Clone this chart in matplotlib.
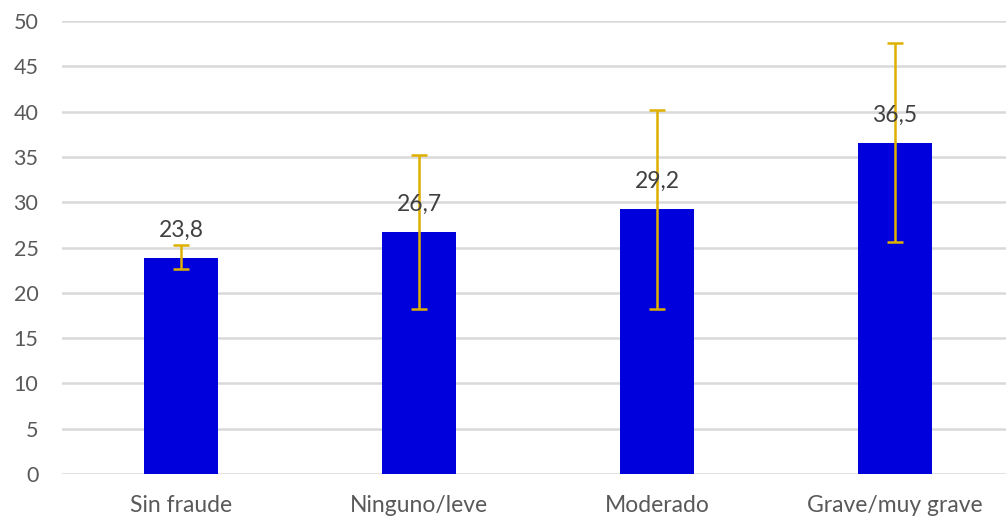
import matplotlib
matplotlib.use("Agg")
import matplotlib.pyplot as plt
import numpy as np

plt.rcParams['font.family'] = ['Lato', 'DejaVu Sans']

categories = ["Sin fraude", "Ninguno/leve", "Moderado", "Grave/muy grave"]
values = [23.8, 26.7, 29.2, 36.5]
err_low = [22.6, 18.2, 18.2, 25.6]
err_high = [25.3, 35.2, 40.2, 47.6]
labels = ["23,8", "26,7", "29,2", "36,5"]

BAR_COLOR = "#0000DC"
ERR_COLOR = "#DFB000"
GRID_COLOR = "#D9D9D9"

fig = plt.figure(figsize=(10.06, 5.18), dpi=100)
ax = fig.add_axes([62 / 1006, 44 / 518, 952 / 1006, 453 / 518])

x = np.arange(len(categories))
vals = np.array(values)
yerr = np.array([vals - np.array(err_low), np.array(err_high) - vals])

ax.bar(x, vals, width=0.31, color=BAR_COLOR, zorder=2)
ax.errorbar(x, vals, yerr=yerr, fmt="none", ecolor=ERR_COLOR,
            elinewidth=1.8, capsize=6, capthick=1.8, zorder=3)

for xi, v, lab in zip(x, vals, labels):
    ax.annotate(lab, (xi, v), xytext=(0, 20), textcoords="offset points",
                ha="center", va="center", fontsize=16.5, color="#404040", zorder=4)

ax.set_xlim(-0.5, 3.5)
ax.set_ylim(0, 50)
ax.set_yticks(np.arange(0, 51, 5))
ax.set_xticks(x)
ax.set_xticklabels(categories)
ax.yaxis.grid(True, color=GRID_COLOR, linewidth=1.8, zorder=0)
ax.set_axisbelow(True)
for s in ax.spines.values():
    s.set_visible(False)
ax.tick_params(axis="both", length=0, colors="#595959")
ax.tick_params(axis="y", labelsize=15.5, pad=17)
ax.tick_params(axis="x", labelsize=16.5, pad=15)

fig.savefig("out.png", dpi=100)
